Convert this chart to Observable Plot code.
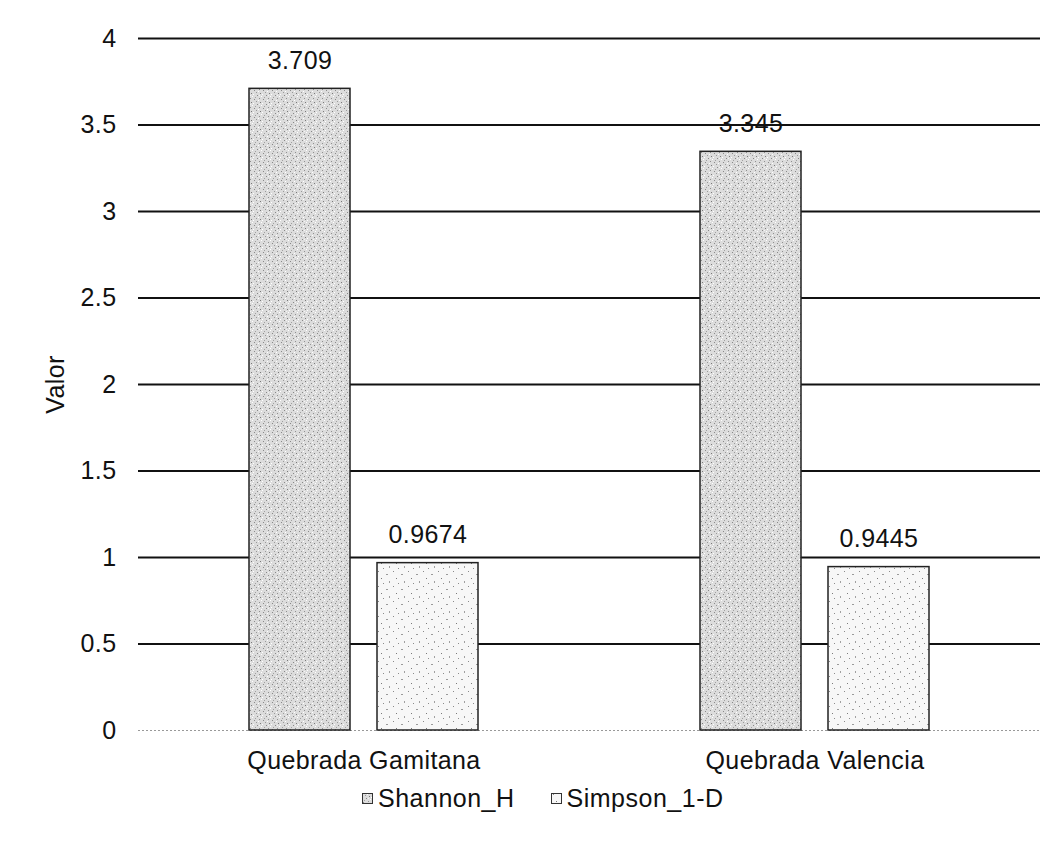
<!DOCTYPE html>
<html>
<head>
<meta charset="utf-8">
<script src="https://cdn.jsdelivr.net/npm/d3@7"></script>
<script src="https://cdn.jsdelivr.net/npm/@observablehq/plot@0.6"></script>
<style>
  body { margin: 0; background: #fff; font-family: "Liberation Sans", Arial, sans-serif; }
  #chart { width: 1054px; }
  #chart svg text { letter-spacing: 0.4px; }
  .legend { display: flex; justify-content: flex-start; font-size: 25px; line-height: 29px; letter-spacing: 0.5px; color: #111; margin-top: 8px; padding-left: 362px; }
  .legend span { display: inline-flex; align-items: center; gap: 5px; }
  .legend span + span { margin-left: 36px; }
  .legend svg { display: block; }
</style>
</head>
<body>
<svg width="0" height="0" style="position:absolute">
  <defs>
    <!-- grainy stipple fills for the two indices -->
    <pattern id="tex-shannon" width="9" height="9" patternUnits="userSpaceOnUse">
      <rect width="9" height="9" fill="#dcdcdc"/>
      <rect x="1" y="0" width="1" height="1" fill="#8a8a8a"/>
      <rect x="5" y="1" width="1" height="1" fill="#ffffff"/>
      <rect x="3" y="2" width="1" height="1" fill="#9a9a9a"/>
      <rect x="7" y="3" width="1" height="1" fill="#7a7a7a"/>
      <rect x="0" y="4" width="1" height="1" fill="#ffffff"/>
      <rect x="4" y="5" width="1" height="1" fill="#888888"/>
      <rect x="8" y="6" width="1" height="1" fill="#ffffff"/>
      <rect x="2" y="7" width="1" height="1" fill="#a0a0a0"/>
      <rect x="6" y="8" width="1" height="1" fill="#909090"/>
      <rect x="6" y="5" width="1" height="1" fill="#f4f4f4"/>
    </pattern>
    <pattern id="tex-simpson" width="15" height="15" patternUnits="userSpaceOnUse">
      <rect width="15" height="15" fill="#f7f7f7"/>
      <rect x="2" y="1" width="1" height="1" fill="#8a8a8a"/>
      <rect x="10" y="4" width="2" height="1" fill="#9a9a9a"/>
      <rect x="5" y="8" width="1" height="1" fill="#7a7a7a"/>
      <rect x="13" y="11" width="1" height="2" fill="#a0a0a0"/>
      <rect x="7" y="13" width="1" height="1" fill="#8c8c8c"/>
    </pattern>
  </defs>
</svg>
<div id="chart"></div>
<script>
// Diversity indices per stream
const sites = ["Quebrada Gamitana", "Quebrada Valencia"];
const indices = ["Shannon_H", "Simpson_1-D"];
const shannonValues = [3.709, 3.345];
const simpsonValues = [0.9674, 0.9445];
const valueLabels = [["3.709", "3.345"], ["0.9674", "0.9445"]];
const yTicks = [0, 0.5, 1, 1.5, 2, 2.5, 3, 3.5, 4];
const yTickLabels = ["0", "0.5", "1", "1.5", "2", "2.5", "3", "3.5", "4"];

const rows = [];
sites.forEach((site, i) => {
  rows.push({site, index: indices[0], value: shannonValues[i], label: valueLabels[0][i]});
  rows.push({site, index: indices[1], value: simpsonValues[i], label: valueLabels[1][i]});
});

const fmt = (d) => yTickLabels[yTicks.indexOf(d)];

const chart = Plot.plot({
  width: 1054,
  height: 776,
  marginLeft: 137,
  marginRight: 14,
  marginTop: 38,
  marginBottom: 46,
  style: {fontFamily: "'Liberation Sans', Arial, sans-serif", fontSize: "25px", color: "#111", background: "#fff"},
  fx: {domain: sites, padding: 0, label: null},
  x: {domain: indices, paddingInner: 0.21, paddingOuter: 0.862, axis: null},
  y: {domain: [0, 4], ticks: yTicks, tickFormat: fmt, label: null},
  color: {domain: indices, range: ["url(#tex-shannon)", "url(#tex-simpson)"]},
  marks: [
    Plot.ruleY(yTicks.filter((d) => d > 0), {stroke: "#111", strokeWidth: 1.8}),
    Plot.ruleY([0], {stroke: "#999", strokeWidth: 1.2, strokeDasharray: "2,2"}),
    Plot.barY(rows, {fx: "site", x: "index", y: "value", fill: "index", stroke: "#222", strokeWidth: 1.5}),
    Plot.text(rows, {fx: "site", x: "index", y: "value", text: "label", lineAnchor: "bottom", dy: -20, fontSize: 25, fill: "#111"}),
    Plot.axisY({ticks: yTicks, tickFormat: fmt, tickSize: 0, tickPadding: 22, fontSize: 25, label: "Valor", labelAnchor: "center", labelArrow: "none", labelOffset: 92}),
    Plot.axisFx({anchor: "bottom", tickSize: 0, tickPadding: 21, fontSize: 25, label: null})
  ]
});
document.getElementById("chart").appendChild(chart);

// Legend below the plot
const legend = document.createElement("div");
legend.className = "legend";
indices.forEach((name, i) => {
  const item = document.createElement("span");
  item.innerHTML = `<svg width="11" height="11"><rect x="0.5" y="0.5" width="10" height="10" fill="${i === 0 ? "url(#tex-shannon)" : "url(#tex-simpson)"}" stroke="#333" stroke-width="1"/></svg>${name}`;
  legend.appendChild(item);
});
document.getElementById("chart").appendChild(legend);
</script>
</body>
</html>
